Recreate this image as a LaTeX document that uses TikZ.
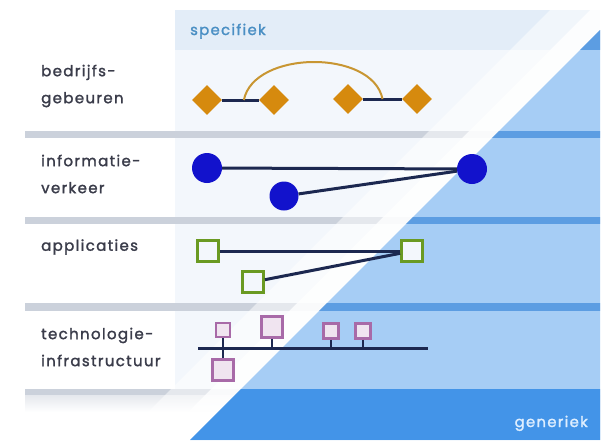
\documentclass[tikz,border=0pt]{standalone}
\usepackage{fontspec}
\setmainfont{Poppins}
\newfontfamily\lblfont{Poppins}[FakeBold=1.6, LetterSpace=9]
\usetikzlibrary{shapes.geometric,calc}

\definecolor{navy}{RGB}{28,40,80}
\definecolor{orng}{RGB}{214,138,14}
\definecolor{arcc}{RGB}{200,150,50}
\definecolor{dotb}{RGB}{18,18,204}
\definecolor{grn}{RGB}{106,154,34}
\definecolor{purp}{RGB}{168,106,168}
\definecolor{pfill}{RGB}{240,228,240}
\definecolor{lblc}{RGB}{58,60,74}
\definecolor{spec}{RGB}{74,143,196}
\definecolor{topband}{RGB}{227,237,248}
\definecolor{rowbg}{RGB}{243,247,252}
\definecolor{sepg}{RGB}{203,209,219}
\definecolor{lblue}{RGB}{166,205,245}
\definecolor{mblue}{RGB}{92,157,226}
\definecolor{dblue}{RGB}{67,148,232}
\definecolor{gentext}{RGB}{222,238,255}

\begin{document}
\begin{tikzpicture}[x=1pt,y=-1pt,
  lbl/.style={font=\lblfont\fontsize{15}{27}\selectfont, text=lblc, align=left, inner sep=0pt},
  dia/.style={diamond, fill=orng, minimum width=30pt, minimum height=30pt, inner sep=0pt},
  dot/.style={circle, fill=dotb, minimum size=30pt, inner sep=0pt},
  gsq/.style={rectangle, draw=grn, line width=2.8pt, fill=rowbg, minimum size=21pt, inner sep=0pt},
  psq/.style={rectangle, draw=purp, line width=2.5pt, fill=pfill, inner sep=0pt},
  conn/.style={draw=navy, line width=3pt},
  stub/.style={draw=navy, line width=2.2pt},
  band/.style={font=\lblfont\fontsize{14.8}{14.8}\selectfont, inner sep=0pt},
]
\useasboundingbox (0,0) rectangle (602,445);
\fill[white] (0,0) rectangle (602,445);
% specific region
\fill[topband] (175,10) rectangle (600,50);
\fill[white] (25,50) rectangle (175,389);
\fill[rowbg] (175,50) rectangle (600,389);
% separators
\fill[sepg] (25,131) rectangle (600,138);
\fill[sepg] (25,217) rectangle (600,224);
\fill[sepg] (25,303) rectangle (600,311);
\fill[sepg] (25,389) rectangle (600,395);
\shade[top color=sepg!50, bottom color=white] (25,395) rectangle (600,412);
% white glow along the diagonal
\fill[white, opacity=0.5] (550,10) -- (590,10) -- (160,440) -- (120,440) -- cycle;
\fill[white, opacity=0.9] (590,10) -- (620,10) -- (190,440) -- (160,440) -- cycle;
% generic triangle
\begin{scope}
  \clip (600,30) -- (600,440) -- (190,440) -- cycle;
  \fill[lblue] (0,0) rectangle (602,445);
  \fill[mblue] (0,10) rectangle (602,50);
  \fill[mblue] (0,131) rectangle (602,138);
  \fill[mblue] (0,217) rectangle (602,224);
  \fill[mblue] (0,303) rectangle (602,311);
  \fill[dblue] (0,389) rectangle (602,440);
\end{scope}

% band texts
\node[band, text=spec, anchor=base west] (spec) at (190,35) {specifiek};
\node[band, text=gentext, anchor=base east] (gen) at (588,427) {generiek};

% labels
\node[lbl, anchor=west] (l1) at (41,86) {bedrijfs-\\gebeuren};
\node[lbl, anchor=west] (l2) at (41,174) {informatie-\\verkeer};
\node[lbl, anchor=west] (l3) at (41,247) {applicaties};
\node[lbl, anchor=west] (l4) at (41,347) {technologie-\\infrastructuur};

% row 1: business events
\node[dia] (d1) at (207,100) {};
\node[dia] (d2) at (274,100) {};
\node[dia] (d3) at (348,99) {};
\node[dia] (d4) at (417,99) {};
\draw[conn] (d1) -- (d2);
\draw[conn] (d3) -- (d4);
\coordinate (m1) at ($(d1)!0.55!(d2)$);
\coordinate (m2) at ($(d3)!0.5!(d4)$);
\draw[arcc, line width=2pt] (m1) .. controls +(10,-50) and +(-10,-50) .. (m2);

% row 2: information traffic
\node[dot] (c1) at (207,168) {};
\node[dot, minimum size=29pt] (c2) at (284,196) {};
\node[dot] (c3) at (472,169) {};
\draw[conn] (c1) -- (c3);
\draw[conn] (c2) -- (c3);

% row 3: applications
\node[gsq] (s1) at (208,251) {};
\node[gsq] (s2) at (253,282) {};
\node[gsq] (s3) at (412,251) {};
\draw[conn] (s1) -- (s3);
\draw[conn] (s2) -- (s3);

% row 4: technology infrastructure
\coordinate (busL) at (198,348);
\coordinate (busR) at (428,348);
\draw[conn] (busL) -- (busR);
\node[psq, minimum size=14pt] (p1) at (223,330) {};
\node[psq, minimum size=21pt] (p2) at (223,370) {};
\node[psq, minimum size=21pt] (p3) at (272,327) {};
\node[psq, minimum size=15pt] (p4) at (331,331) {};
\node[psq, minimum size=15pt] (p5) at (363,331) {};
\draw[stub] (p1) -- (p2);
\draw[stub] (p3) -- (p3 |- busL);
\draw[stub] (p4) -- (p4 |- busL);
\draw[stub] (p5) -- (p5 |- busL);
\end{tikzpicture}
\end{document}
